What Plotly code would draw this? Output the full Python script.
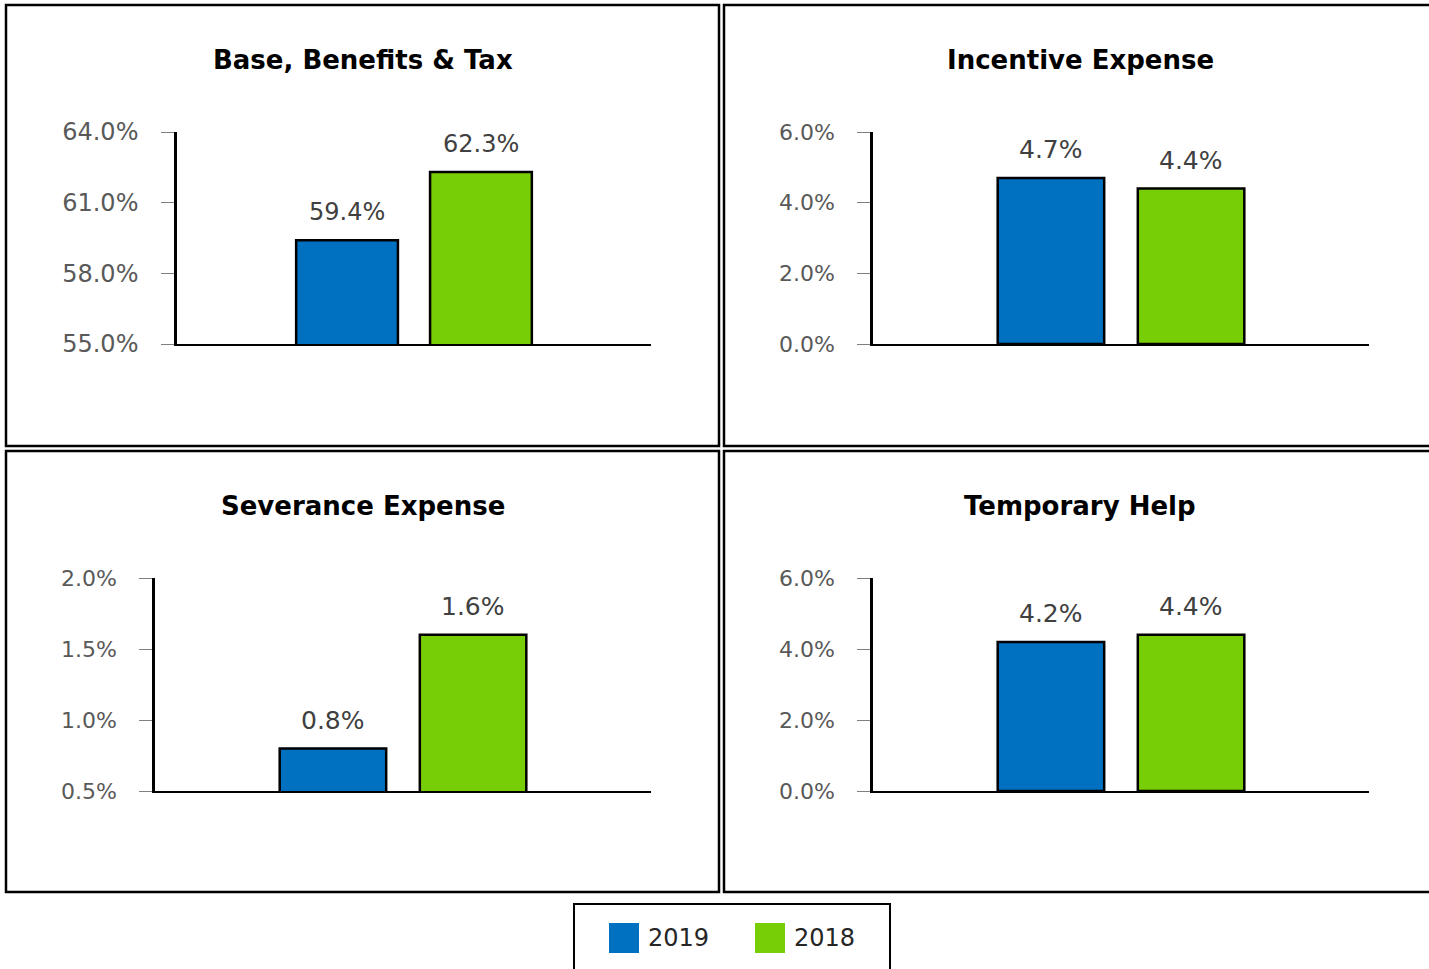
import plotly.graph_objects as go

W, H = 1429, 969

# ---------------- data ----------------
panel_titles = ["Base, Benefits & Tax", "Incentive Expense", "Severance Expense", "Temporary Help"]
series_names = ["2019", "2018"]
series_colors = ["#0070C0", "#78CE06"]
values_2019 = [59.4, 4.7, 0.8, 4.2]
values_2018 = [62.3, 4.4, 1.6, 4.4]
y_ranges = [[55, 64], [0, 6], [0.5, 2.0], [0, 6]]
y_ticks = [[55, 58, 61, 64], [0, 2, 4, 6], [0.5, 1.0, 1.5, 2.0], [0, 2, 4, 6]]
category = ["Total"]

# ---------------- layout geometry (pixels) ----------------
panels = [(6, 5, 719, 446), (724, 5, 1436, 446), (6, 451, 719, 892), (724, 451, 1436, 892)]
plot_areas = [(177, 132, 651, 344), (873, 132, 1369, 344), (155, 578, 651, 791), (873, 578, 1369, 791)]
tick_sizes = [24, 22, 22, 22]
label_sizes = [24, 25, 25, 25]
BARGAP = 0.435
BARGROUPGAP = 0.24
FONT = "'DejaVu Sans', sans-serif"


def fx(px):
    return px / W


def fy(py):
    return 1 - py / H


fig = go.Figure()
shapes = []
annotations = []
series_values = [values_2019, values_2018]

for i in range(4):
    xa = "x" if i == 0 else f"x{i+1}"
    ya = "y" if i == 0 else f"y{i+1}"
    for s in range(2):
        fig.add_trace(go.Bar(
            x=category, y=[series_values[s][i]], name=series_names[s],
            marker=dict(color=series_colors[s], line=dict(color="black", width=2.5)),
            xaxis=xa, yaxis=ya, showlegend=False, hoverinfo="skip",
        ))
        # data label above each bar
        offset = (1 - BARGAP) / 4 * (-1 if s == 0 else 1)
        annotations.append(dict(
            x=offset, y=series_values[s][i], xref=xa, yref=ya,
            text=f"{series_values[s][i]:.1f}%", showarrow=False,
            yanchor="middle", yshift=28,
            font=dict(family=FONT, size=label_sizes[i], color="#404040"),
        ))
    x0, y0, x1, y1 = plot_areas[i]
    suffix = "" if i == 0 else str(i + 1)
    fig.layout["xaxis" + suffix] = dict(
        domain=[fx(x0), fx(x1)], anchor=ya, type="category", range=[-0.5, 0.5],
        showline=True, linecolor="black", linewidth=2, showticklabels=False,
        ticks="", showgrid=False, zeroline=False, fixedrange=True, automargin=False,
    )
    fig.layout["yaxis" + suffix] = dict(
        domain=[fy(y1), fy(y0)], anchor=xa, range=y_ranges[i], tickmode="array",
        tickvals=y_ticks[i], ticktext=[f"{v:.1f}%" for v in y_ticks[i]],
        showline=True, linecolor="black", linewidth=2.5,
        ticks="outside", ticklen=13, tickcolor="#808080", tickwidth=1,
        ticklabelstandoff=18,
        tickfont=dict(family=FONT, size=tick_sizes[i], color="#595959"),
        showgrid=False, zeroline=False, fixedrange=True, automargin=False,
    )
    # panel border
    px0, py0, px1, py1 = panels[i]
    shapes.append(dict(type="rect", xref="paper", yref="paper",
                       x0=fx(px0), x1=fx(px1), y0=fy(py1), y1=fy(py0),
                       line=dict(color="black", width=2.5)))
    # panel title
    annotations.append(dict(
        x=fx((px0 + px1) / 2), y=fy(py0 + 55), xref="paper", yref="paper",
        text=f"<b>{panel_titles[i]}</b>", showarrow=False, xanchor="center", yanchor="middle",
        font=dict(family=FONT, size=26, color="black"),
    ))

# ---------------- legend (manual box) ----------------
shapes.append(dict(type="rect", xref="paper", yref="paper",
                   x0=fx(574), x1=fx(890), y0=fy(980), y1=fy(904),
                   line=dict(color="black", width=2)))
legend_x = [609, 755]
for s in range(2):
    lx = legend_x[s]
    shapes.append(dict(type="rect", xref="paper", yref="paper",
                       x0=fx(lx), x1=fx(lx + 30), y0=fy(953), y1=fy(923),
                       fillcolor=series_colors[s], line=dict(width=0)))
    annotations.append(dict(
        x=fx(lx + 37), y=fy(938), xref="paper", yref="paper", text=series_names[s],
        showarrow=False, xanchor="left", yanchor="middle",
        font=dict(family=FONT, size=24, color="#262626"),
    ))

fig.update_layout(
    template="none",
    width=W, height=H, margin=dict(l=0, r=0, t=0, b=0, pad=0, autoexpand=False),
    paper_bgcolor="white", plot_bgcolor="white",
    barmode="group", bargap=BARGAP, bargroupgap=BARGROUPGAP,
    shapes=shapes, annotations=annotations, showlegend=False,
)

fig.write_html("out.html")
